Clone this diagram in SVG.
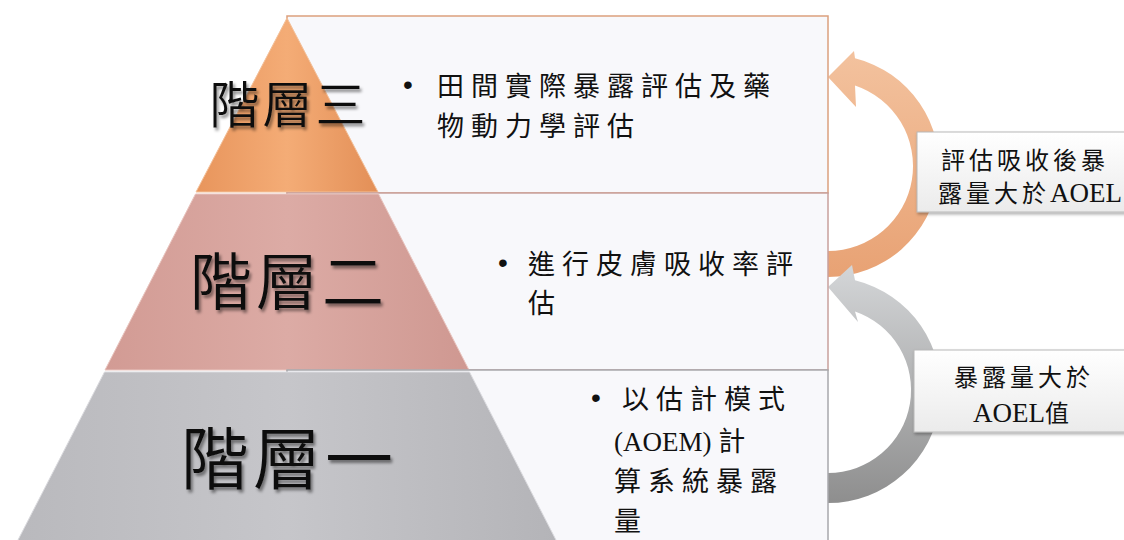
<svg xmlns="http://www.w3.org/2000/svg" width="1124" height="540" viewBox="0 0 1124 540">
  <defs>
    <style>
      .tier { font-family: "Noto Sans CJK TC", "Noto Sans CJK SC", sans-serif; font-weight: 350; fill: #111; text-anchor: middle; }
      .body { font-family: "Liberation Serif", "Noto Sans CJK TC", serif; font-size: 27px; letter-spacing: 7px; fill: #111; }
      .lbl { font-family: "Liberation Serif", "Noto Sans CJK TC", serif; font-size: 24px; letter-spacing: 4px; fill: #111; text-anchor: middle; }
      .bul { font-family: "Liberation Sans", sans-serif; font-size: 28px; fill: #111; }
      .tight { letter-spacing: 0px; }
    </style>
    <linearGradient id="gOrange" x1="0" y1="0" x2="1" y2="0">
      <stop offset="0" stop-color="#e8955c"/>
      <stop offset="0.5" stop-color="#f4ac76"/>
      <stop offset="1" stop-color="#e38f57"/>
    </linearGradient>
    <linearGradient id="gPink" x1="0" y1="0" x2="1" y2="0">
      <stop offset="0" stop-color="#d29b94"/>
      <stop offset="0.5" stop-color="#dcaba5"/>
      <stop offset="1" stop-color="#cf9891"/>
    </linearGradient>
    <linearGradient id="gGray" x1="0" y1="0" x2="1" y2="0">
      <stop offset="0" stop-color="#b9b9bd"/>
      <stop offset="0.5" stop-color="#c6c6ca"/>
      <stop offset="1" stop-color="#b4b4b8"/>
    </linearGradient>
    <linearGradient id="gArrO" x1="0" y1="0" x2="0" y2="1">
      <stop offset="0" stop-color="#f3c29e"/>
      <stop offset="1" stop-color="#e8a274"/>
    </linearGradient>
    <linearGradient id="gArrG" x1="0" y1="0" x2="0" y2="1">
      <stop offset="0" stop-color="#d4d6d8"/>
      <stop offset="1" stop-color="#8e8e8e"/>
    </linearGradient>
    <linearGradient id="gBox" x1="0" y1="0" x2="0" y2="1">
      <stop offset="0" stop-color="#ffffff"/>
      <stop offset="1" stop-color="#ebebeb"/>
    </linearGradient>
    <filter id="txtShadow" x="-10%" y="-10%" width="130%" height="130%">
      <feDropShadow dx="2" dy="3" stdDeviation="1.5" flood-color="#000" flood-opacity="0.45"/>
    </filter>
    <filter id="boxShadow" x="-10%" y="-10%" width="130%" height="140%">
      <feDropShadow dx="1" dy="2" stdDeviation="1.5" flood-color="#000" flood-opacity="0.3"/>
    </filter>
  </defs>

  <rect width="1124" height="540" fill="#ffffff"/>

  <g id="connectors">
    <path id="arrow-orange" fill="url(#gArrO)" d="M828,277 A111,111 0 0 0 855,58.3 L854,51 L828,77 L856,107 L855,85.4 A85,85 0 0 1 828,251 Z"/>
    <path id="arrow-gray" fill="url(#gArrG)" d="M828,503 A113,113 0 0 0 855,280.3 L852,265 L828,287 L858,322 L855,311.5 A83,83 0 0 1 828,473 Z"/>
  </g>

  <g id="tier3">
    <rect x="287" y="16" width="541" height="177" fill="#f8f8fb" stroke="#dba07e" stroke-width="1.5"/>
    <polygon points="287,18 196,192 378,192" fill="url(#gOrange)" stroke="#f2c09a" stroke-width="1"/>
    <text class="tier" x="289" y="123" font-size="50" letter-spacing="3" filter="url(#txtShadow)">階層三</text>
    <text class="bul" x="403" y="94">•</text>
    <text class="body" x="437" y="96">田間實際暴露評估及藥</text>
    <text class="body" x="437" y="136">物動力學評估</text>
  </g>

  <g id="tier2">
    <rect x="287" y="193" width="541" height="177" fill="#f8f8fb" stroke="#c8a09c" stroke-width="1.5"/>
    <polygon points="195.5,194 378.5,194 469,370 105,370" fill="url(#gPink)" stroke="#e8c4be" stroke-width="1"/>
    <text class="tier" x="289" y="305" font-size="62" letter-spacing="4" filter="url(#txtShadow)">階層二</text>
    <text class="bul" x="498" y="272">•</text>
    <text class="body" x="528" y="274">進行皮膚吸收率評</text>
    <text class="body" x="528" y="313">估</text>
  </g>

  <g id="tier1">
    <rect x="287" y="370" width="541" height="175" fill="#f8f8fb" stroke="#a8a8ac" stroke-width="1.5"/>
    <polygon points="104.5,372 469.5,372 557,542 17,542" fill="url(#gGray)" stroke="#dadade" stroke-width="1"/>
    <text class="tier" x="289" y="484" font-size="68" letter-spacing="4" filter="url(#txtShadow)">階層一</text>
    <text class="bul" x="591" y="407">•</text>
    <text class="body" x="622" y="409">以估計模式</text>
    <text class="body" x="614" y="451"><tspan class="tight" font-size="27">(AOEM) </tspan>計</text>
    <text class="body" x="614" y="491">算系統暴露</text>
    <text class="body" x="614" y="531">量</text>
  </g>

  <g id="label-upper">
    <rect x="917" y="132" width="215" height="80" fill="url(#gBox)" stroke="#b8b8b8" stroke-width="1" filter="url(#boxShadow)"/>
    <text class="lbl" x="1025" y="169">評估吸收後暴</text>
    <text class="lbl" x="1030" y="202">露量大於<tspan class="tight" font-size="27">AOEL</tspan></text>
  </g>

  <g id="label-lower">
    <rect x="914" y="350" width="215" height="82" fill="url(#gBox)" stroke="#b8b8b8" stroke-width="1" filter="url(#boxShadow)"/>
    <text class="lbl" x="1024" y="386">暴露量大於</text>
    <text class="lbl tight" x="1021" y="422"><tspan font-size="27">AOEL</tspan>值</text>
  </g>
</svg>
